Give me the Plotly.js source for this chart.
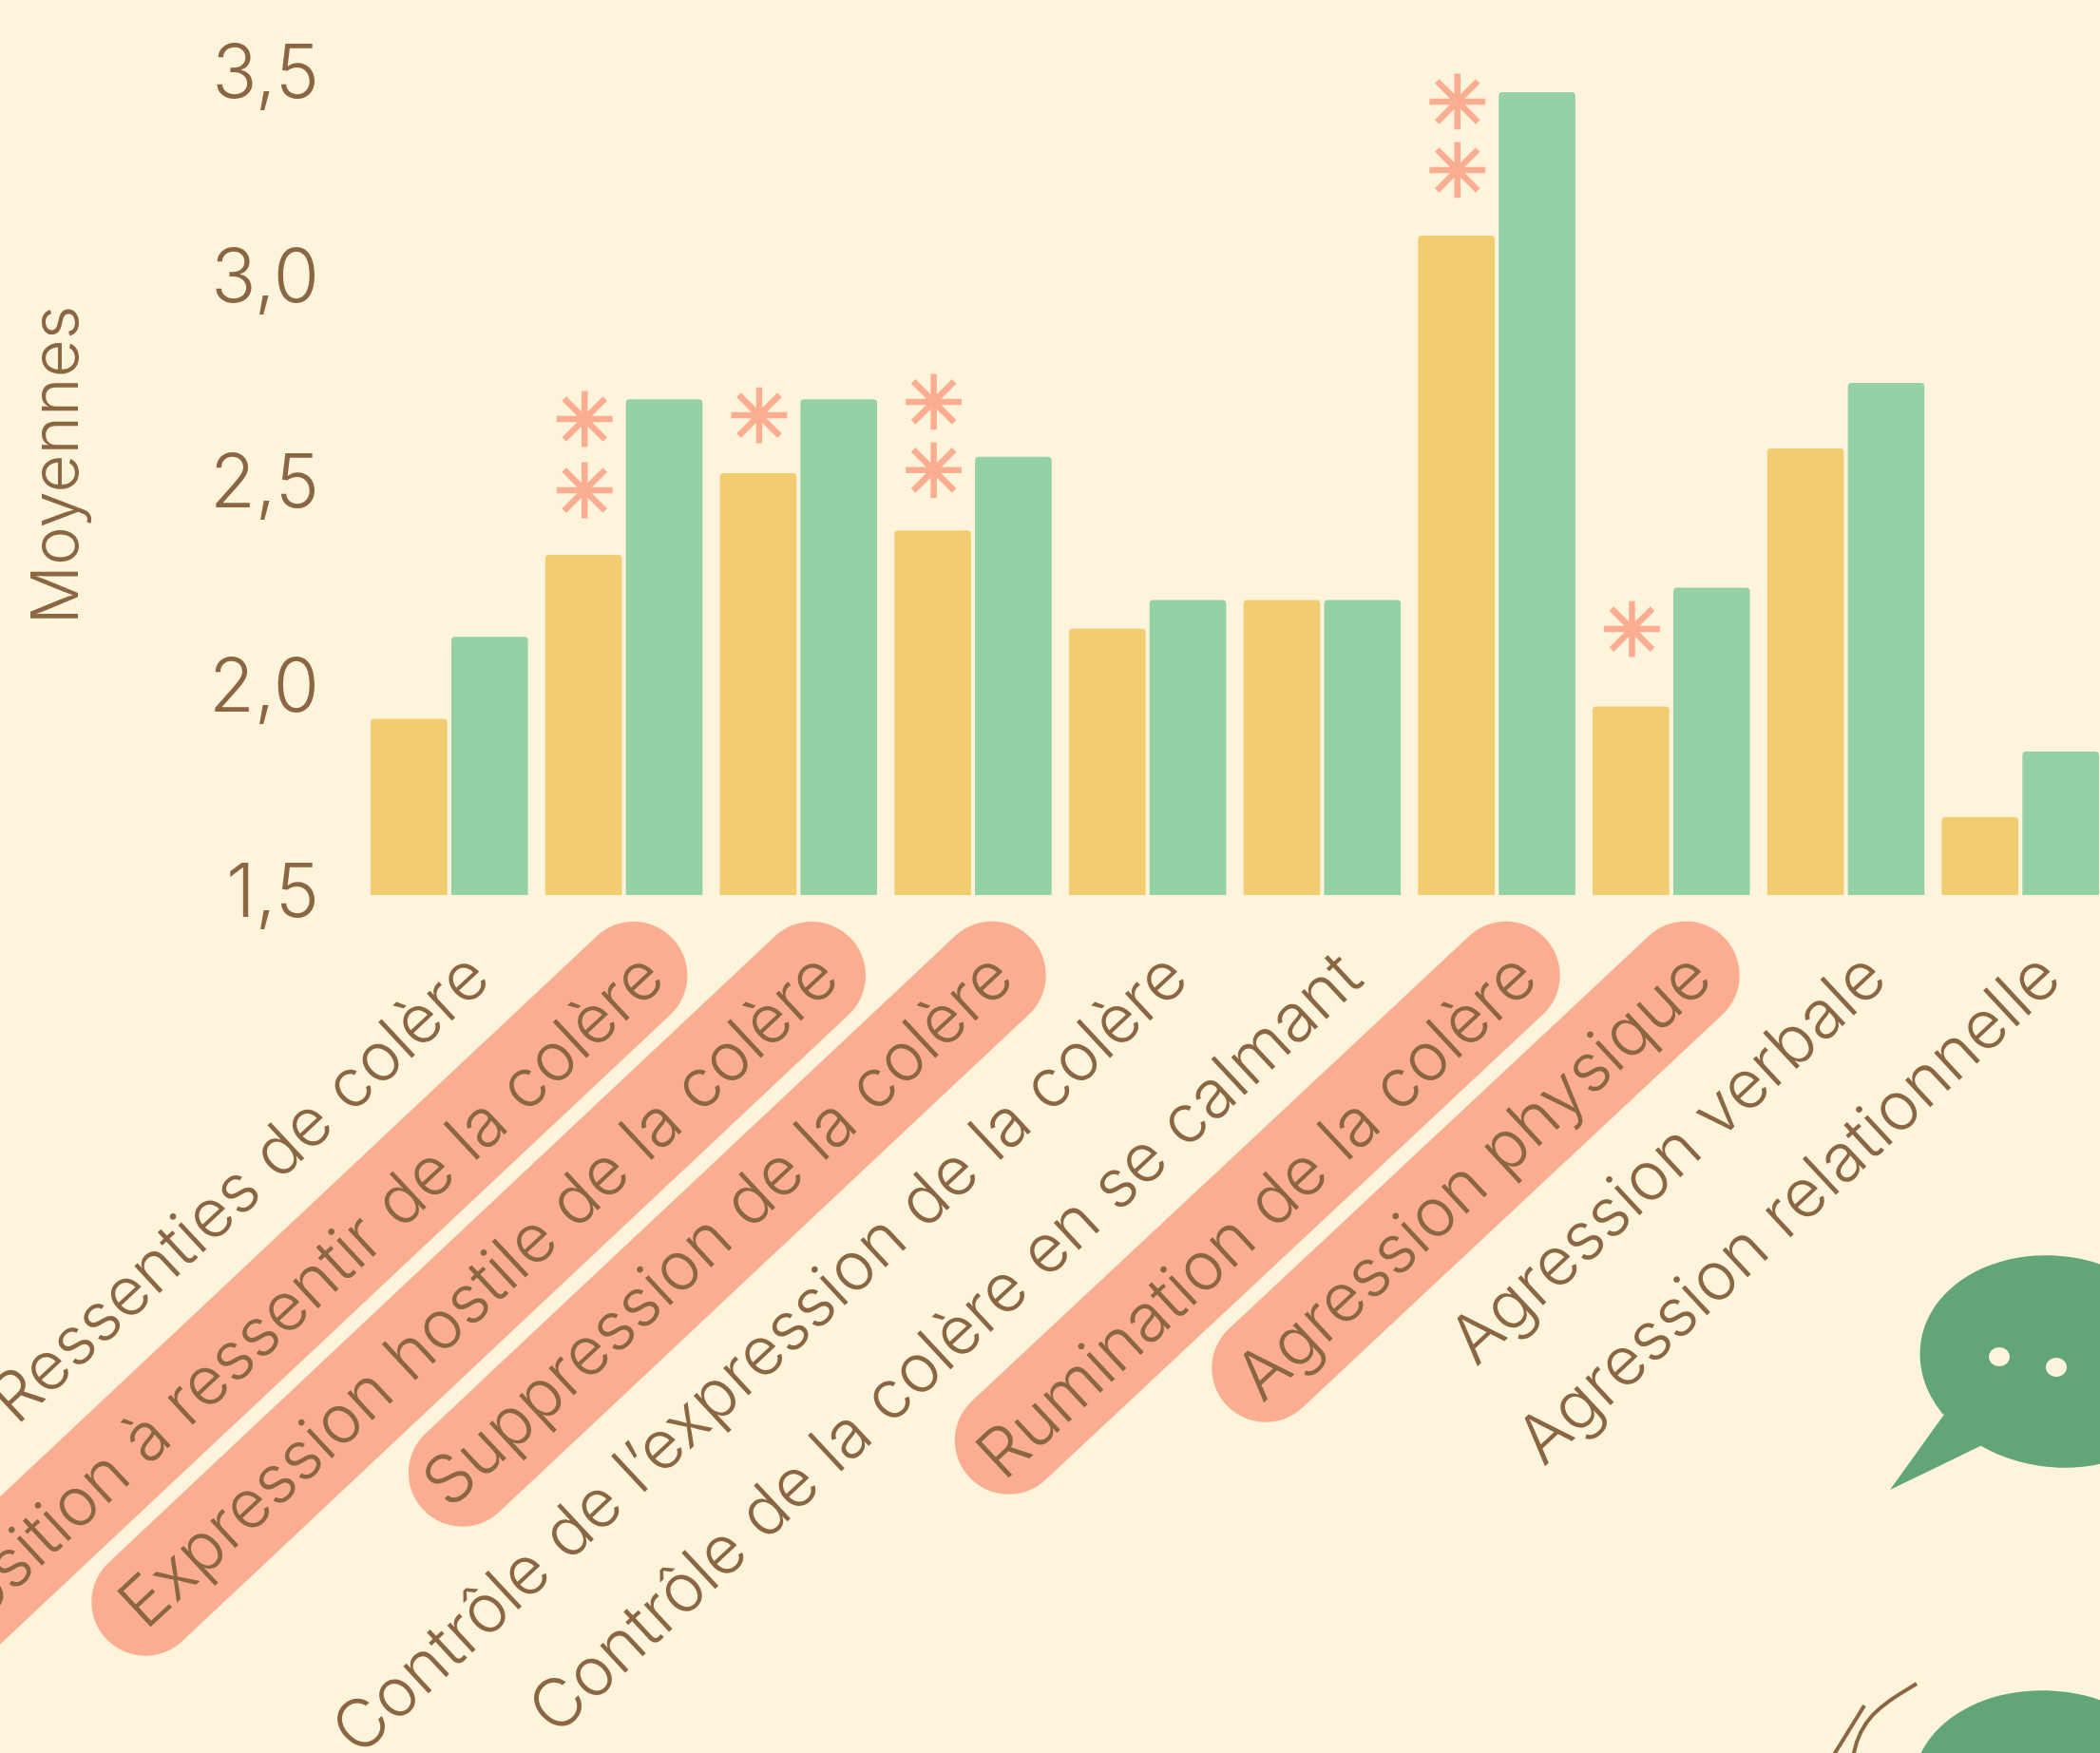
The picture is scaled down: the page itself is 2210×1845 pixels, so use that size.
<!DOCTYPE html>
<html><head><meta charset="utf-8">
<script src="https://cdn.plot.ly/plotly-3.0.1.min.js"></script>
<style>html,body{margin:0;padding:0;background:#FEF4DC;overflow:hidden}</style>
</head><body><div id="chart"></div>
<script>
const categories = ["Ressenties de colère","Opposition à ressentir de la colère","Expression hostile de la colère","Suppression de la colère","Contrôle de l’expression de la colère","Contrôle de la colère en se calmant","Rumination de la colère","Agression physique","Agression verbale","Agression relationnelle"];
const yellowValues = [1.92,2.32,2.52,2.38,2.14,2.21,3.10,1.95,2.58,1.68];
const greenValues  = [2.12,2.70,2.70,2.56,2.21,2.21,3.45,2.24,2.74,1.84];
const starCategory = [1,1,2,3,3,6,6,7];
const starValues   = [2.652,2.478,2.661,2.694,2.527,3.427,3.26,2.139];
const tickValues = [1.5,2,2.5,3,3.5];

const W=2210,H=1845,BG='#FEF4DC',BROWN='#8A6642',SALMON='#FBAD91',YEL='#F2CC70',GRN='#94D1A5',DARK='#62A577';
const FONT='Inter, sans-serif';
const ML=381,MT=37,PB=942;
const px=x=>(x-ML)/(W-ML), py=y=>(PB-y)/(PB-MT);
const K=0.5523;
function P(x,y){return px(x).toFixed(5)+','+py(y).toFixed(5);}
function ellipse(cx,cy,rx,ry,deg){
  const t=deg*Math.PI/180,c=Math.cos(t),s=Math.sin(t);
  const R=(u,v)=>P(cx+u*c-v*s,cy+u*s+v*c);
  return `M${R(rx,0)}C${R(rx,K*ry)} ${R(K*rx,ry)} ${R(0,ry)}C${R(-K*rx,ry)} ${R(-rx,K*ry)} ${R(-rx,0)}C${R(-rx,-K*ry)} ${R(-K*rx,-ry)} ${R(0,-ry)}C${R(K*rx,-ry)} ${R(rx,-K*ry)} ${R(rx,0)}Z`;
}
function pill(x1,y1,x2,y2,r){
  const d=Math.hypot(x2-x1,y2-y1),ux=(x2-x1)/d,uy=(y2-y1)/d,nx=-uy,ny=ux;
  const Q=(b,a,n)=>P(b[0]+ux*a+nx*n,b[1]+uy*a+ny*n);
  const A=[x1,y1],B=[x2,y2];
  return `M${Q(A,0,r)}L${Q(B,0,r)}C${Q(B,K*r,r)} ${Q(B,r,K*r)} ${Q(B,r,0)}C${Q(B,r,-K*r)} ${Q(B,K*r,-r)} ${Q(B,0,-r)}L${Q(A,0,-r)}C${Q(A,-K*r,-r)} ${Q(A,-r,-K*r)} ${Q(A,-r,0)}C${Q(A,-r,K*r)} ${Q(A,-K*r,r)} ${Q(A,0,r)}Z`;
}
const pillShape=(a,b,c,d)=>({type:'path',xref:'paper',yref:'paper',layer:'below',fillcolor:SALMON,line:{width:0},path:pill(a,b,c,d,56.7)});
const fill=(path,color)=>({type:'path',xref:'paper',yref:'paper',layer:'above',fillcolor:color,line:{width:0},path});
const shapes=[
  pillShape(666.7,1026.7,-180,1822),
  pillShape(854.3,1026.7,153,1686),
  pillShape(1044,1026.4,486.6,1550),
  pillShape(1585,1026.4,1061.6,1516),
  pillShape(1774,1026.4,1332,1440),
  fill(ellipse(2163,1433,143,111,8),DARK),
  fill(`M${P(2045,1490)}L${P(1989,1568)}L${P(2086,1521)}L${P(2110,1480)}Z`,DARK),
  fill(ellipse(2104,1428,11,10,0),BG),
  fill(ellipse(2164,1439,11,10,0),BG),
  fill(ellipse(2222,1449,12,10,0),BG),
  fill(ellipse(2160,1892,148,112,8),DARK),
  {type:'path',xref:'paper',yref:'paper',line:{color:BROWN,width:4},path:`M${P(2017,1772)}C${P(1985,1792)} ${P(1957,1805)} ${P(1950,1850)}`},
  {type:'path',xref:'paper',yref:'paper',line:{color:BROWN,width:4},path:`M${P(1962,1795)}L${P(1928,1850)}`}
];
const xs=categories.map((_,i)=>i);
const starX=starCategory.map(i=>i-0.225);
const star=(symbol,size,width)=>({type:'scatter',mode:'markers',x:starX,y:starValues,hoverinfo:'skip',
  marker:{symbol,size,color:SALMON,line:{color:SALMON,width}}});
const traces=[
  {type:'bar',x:xs,y:yellowValues,marker:{color:YEL,line:{width:0}}},
  {type:'bar',x:xs,y:greenValues,marker:{color:GRN,line:{width:0}}},
  star('cross-thin',42,6.5),
  star('x-thin',43,6.5)
];
const layout={
  width:W,height:H,paper_bgcolor:BG,plot_bgcolor:BG,showlegend:false,separators:',.',
  font:{family:FONT,color:BROWN},
  margin:{l:ML,r:0,t:MT,b:H-PB,pad:0},
  barmode:'group',bargap:0.076,bargroupgap:0.05,barcornerradius:4,
  xaxis:{type:'linear',range:[-0.5,9.456],tickmode:'array',tickvals:xs,ticktext:categories,tickangle:-43,
    showgrid:false,zeroline:false,showline:false,ticks:'',automargin:false,ticklabeloverflow:'allow',
    tickfont:{family:FONT,size:71,color:BROWN,weight:300},ticklabelstandoff:29,ticklabelshift:22},
  yaxis:{range:[1.4896,3.5893],tickmode:'array',tickvals:tickValues,tickformat:'.1f',showgrid:false,zeroline:false,showline:false,ticks:'',automargin:false,
    tickfont:{family:FONT,size:78,color:BROWN,weight:300},ticklabelstandoff:44,
    title:{text:'Moyennes',font:{family:FONT,size:69,color:BROWN,weight:300},standoff:114}},
  shapes
};
Plotly.newPlot('chart',traces,layout,{displayModeBar:false,responsive:false});
</script></body></html>
